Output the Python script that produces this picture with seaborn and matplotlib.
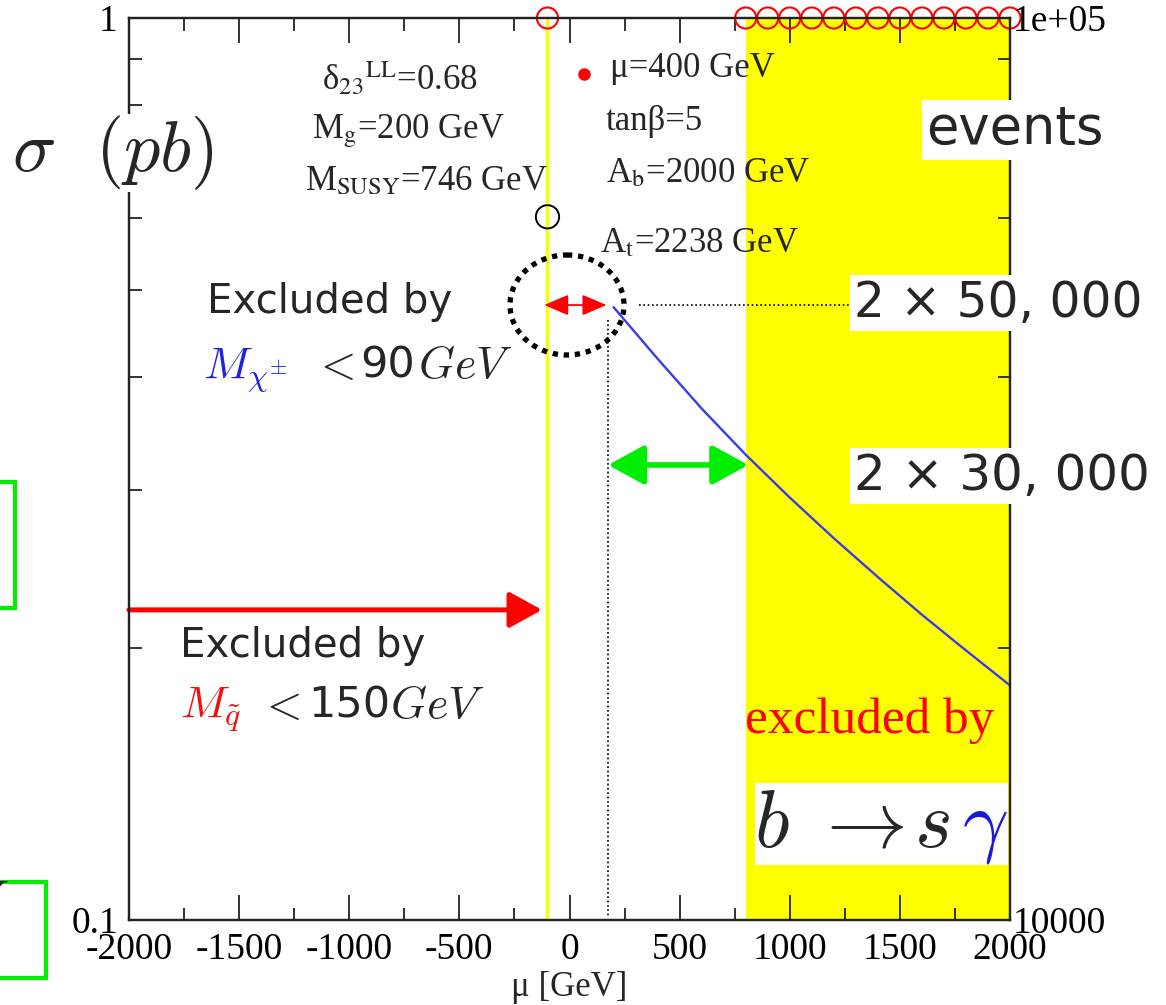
import matplotlib
matplotlib.use("Agg")
import matplotlib.pyplot as plt
from matplotlib.transforms import Affine2D
from matplotlib.patches import Ellipse, Rectangle
from matplotlib.lines import Line2D
from matplotlib.ticker import NullFormatter
import pandas as pd
import seaborn as sns

# ---- data -------------------------------------------------------------
# cross section of the allowed scan (mu in GeV, sigma in pb)
mu_curve = [200, 400, 600, 800, 1000, 1200, 1400, 1600, 1800, 2000]
sigma_curve = [0.478, 0.419, 0.369, 0.328, 0.294, 0.265, 0.240, 0.218, 0.199, 0.182]

# scan points that fall off the top of the frame
mu_top = [-100, 800, 900, 1000, 1100, 1200, 1300, 1400, 1500, 1600, 1700, 1800, 1900, 2000]
sigma_top = [1.0, 1.0, 1.0, 1.0, 1.0, 1.0, 1.0, 1.0, 1.0, 1.0, 1.0, 1.0, 1.0, 1.0]

# isolated point at the chargino boundary
mu_open = [-100]
sigma_open = [0.602]

# limits
mu_chargino = -100          # M_chi+- < 90 GeV edge
mu_bsg = (800, 2000)        # b -> s gamma excluded window
mu_guide = 173              # start of the curve (vertical guide)
sigma_50k = 0.4806          # 2 x 50,000 events level
sigma_30k = 0.3195          # 2 x 30,000 events level
sigma_squark = 0.2207       # squark-limit arrow height

x_ticks = [-2000, -1500, -1000, -500, 0, 500, 1000, 1500, 2000]
x_minor = [-1750, -1250, -750, -250, 250, 750, 1250, 1750]
y_ticks = [0.1, 1]
y_tick_labels = ["0.1", "1"]
y_minor = [0.2, 0.3, 0.4, 0.5, 0.6, 0.7, 0.8, 0.9]
ev_ticks = [1e4, 1e5]
ev_tick_labels = ["10000", "1e+05"]

curve = pd.DataFrame({"mu": mu_curve, "sigma": sigma_curve})
top_pts = pd.DataFrame({"mu": mu_top, "sigma": sigma_top})
open_pts = pd.DataFrame({"mu": mu_open, "sigma": sigma_open})

# ---- style ------------------------------------------------------------
sns.set_theme(style="ticks")
plt.rcParams.update({
    "font.family": ["Liberation Serif", "DejaVu Serif"],
    "mathtext.fontset": "cm",
    "axes.unicode_minus": False,
    "axes.linewidth": 1.6,
    "axes.edgecolor": "#222222",
    "xtick.color": "#222222",
    "ytick.color": "#222222",
    "xtick.labelcolor": "black",
    "ytick.labelcolor": "black",
})

W, H = 1166, 1005
fig = plt.figure(figsize=(W / 100, H / 100), dpi=100)
fig.patch.set_facecolor("white")
ax = fig.add_axes([129 / W, 1 - 920 / H, 881 / W, 902 / H])
ax.set_facecolor("white")

# pixel-style placement helper for the annotations around the frame
T = Affine2D().scale(1 / W, -1 / H).translate(0, 1) + fig.transFigure

ax.axvspan(*mu_bsg, color="#ffff00", lw=0, zorder=0)
ax.axvline(mu_chargino, color="#ffff00", lw=2.4, zorder=1)

sns.lineplot(data=curve, x="mu", y="sigma", ax=ax, color="#3a3aee", lw=1.7, zorder=4)

sns.scatterplot(data=top_pts, x="mu", y="sigma", ax=ax, s=230, marker="o",
                zorder=6, clip_on=False)
coll = ax.collections[-1]
coll.set_facecolor("none"); coll.set_edgecolor("red"); coll.set_linewidth(1.5)
sns.scatterplot(data=open_pts, x="mu", y="sigma", ax=ax, s=280, marker="o", zorder=6)
coll = ax.collections[-1]
coll.set_facecolor("none"); coll.set_edgecolor("black"); coll.set_linewidth(1.4)

# guides
ax.plot([314, 1282], [sigma_50k, sigma_50k], color="black", lw=1.2, ls=(0, (1, 1.6)), zorder=3)
ax.plot([mu_guide, mu_guide], [0.462, 0.101], color="black", lw=1.2, ls=(0, (1, 1.6)), zorder=3)

ax.annotate("", xy=(-115, sigma_50k), xytext=(168, sigma_50k),
            arrowprops=dict(arrowstyle="<|-|>,head_length=0.75,head_width=0.32",
                            color="red", lw=1.3, shrinkA=0, shrinkB=0, mutation_scale=20))
ax.annotate("", xy=(175, sigma_30k), xytext=(812, sigma_30k),
            arrowprops=dict(arrowstyle="<|-|>,head_length=1.1,head_width=0.6",
                            color="#00ee00", lw=4.0, shrinkA=0, shrinkB=0, mutation_scale=20))
ax.annotate("", xy=(-125, sigma_squark), xytext=(-2000, sigma_squark),
            arrowprops=dict(arrowstyle="-|>,head_length=1.0,head_width=0.55",
                            color="red", lw=3.6, shrinkA=0, shrinkB=0, mutation_scale=20))

# ---- axes -------------------------------------------------------------
ax.set_xlim(-2000, 2000)
ax.set_yscale("log")
ax.set_ylim(0.1, 1)
ax.set_xticks(x_ticks, labels=[str(v) for v in x_ticks])
ax.set_xticks(x_minor, minor=True)
ax.set_yticks(y_ticks, labels=y_tick_labels)
ax.set_yticks(y_minor, minor=True)
ax.yaxis.set_minor_formatter(NullFormatter())
ax.tick_params(axis="x", which="major", direction="in", length=18, width=1.3,
               top=True, labelsize=27, pad=9)
ax.tick_params(axis="x", which="minor", direction="in", length=9, width=1.3, top=True)
ax.tick_params(axis="y", which="major", direction="in", length=18, width=1.3,
               right=False, labelsize=27, pad=8)
ax.tick_params(axis="y", which="minor", direction="in", length=9.5, width=1.3, right=False)
ax.set_xlabel("μ [GeV]", fontsize=25)
ax.xaxis.set_label_coords(0.5, -0.057)
ax.set_ylabel("")

ax2 = ax.twinx()
ax2.set_yscale("log")
ax2.set_ylim(1e4, 1e5)
ax2.set_yticks(ev_ticks, labels=ev_tick_labels)
ax2.yaxis.set_minor_formatter(NullFormatter())
ax2.tick_params(axis="y", which="major", direction="in", length=18, width=1.3,
                labelsize=27, pad=2)
ax2.tick_params(axis="y", which="minor", direction="in", length=9, width=1.3)
for sp in ax2.spines.values():
    sp.set_linewidth(1.6)

# ---- labels and notes -------------------------------------------------
fig.text(12, 153, r"$\sigma\ \ (pb)$", transform=T, fontsize=52, va="center",
         bbox=dict(facecolor="white", edgecolor="none", pad=0))

serif = dict(transform=T, fontsize=25, va="baseline", math_fontfamily="stix")
fig.text(322, 90, r"δ$_{\mathrm{23}}$$^{\mathrm{LL}}$=0.68", **serif)
fig.text(312, 138, r"M$_{\mathrm{g}}$=200 GeV", **serif)
fig.text(305, 190, r"M$_{\mathrm{SUSY}}$=746 GeV", **serif)
fig.add_artist(Line2D([584], [74], transform=T, marker="o", color="red",
                      markersize=8, linestyle="none"))
fig.text(610, 77, "μ=400 GeV", **serif)
fig.text(606, 130, "tanβ=5", **serif)
fig.text(606, 182, r"A$_{\mathrm{b}}$=2000 GeV", **serif)
fig.text(600, 252, r"A$_{\mathrm{t}}$=2238 GeV", **serif)

wb = dict(facecolor="white", edgecolor="none", pad=3)
sans = dict(transform=T, family="DejaVu Sans", va="baseline")
fig.text(926, 145, "events", fontsize=38, bbox=wb, **sans)
fig.text(854, 317, "2 × 50, 000", fontsize=35, bbox=wb, **sans)
fig.text(854, 490, "2 × 30, 000", fontsize=36, bbox=wb, **sans)

fig.text(207, 313, "Excluded by", fontsize=29, **sans)
fig.text(203, 378, r"$M_{\chi^{\pm}}$", transform=T, fontsize=33, color="#2222dd", va="baseline")
fig.text(312, 378, r"$<$", transform=T, fontsize=33, va="baseline")
fig.text(360, 378, "90", fontsize=31, **sans)
fig.text(418, 378, r"$GeV$", transform=T, fontsize=33, va="baseline")

fig.text(180, 657, "Excluded by", fontsize=29, **sans)
fig.text(180, 718, r"$M_{\tilde{q}}$", transform=T, fontsize=33, color="#ee1111", va="baseline")
fig.text(258, 718, r"$<$", transform=T, fontsize=33, va="baseline")
fig.text(308, 718, "150", fontsize=31, **sans)
fig.text(390, 718, r"$GeV$", transform=T, fontsize=33, va="baseline")

fig.text(745, 733, "excluded by", transform=T, fontsize=37, color="red",
         family="Liberation Serif", va="baseline")

fig.add_artist(Rectangle((755, 783), 253, 82, transform=T, facecolor="white",
                         edgecolor="none", zorder=2))
bs = dict(transform=T, fontsize=58, va="baseline", zorder=3)
fig.text(754, 847, r"$b$", **bs)
fig.text(812, 847, r"$\rightarrow$", **bs)
fig.text(914, 847, r"$s$", **bs)
fig.text(962, 847, r"$\gamma$", color="#1a1add", **bs)

fig.add_artist(Ellipse((567, 305), 114, 100, transform=T, fill=False, edgecolor="black",
                       lw=3.8, linestyle=(0, (1, 1.1)), zorder=5))

# framed remarks at the left margin
fig.add_artist(Rectangle((-10, 482), 25, 126, transform=T, fill=False,
                         edgecolor="#00ee00", lw=3))
fig.add_artist(Rectangle((-10, 882), 56, 96, transform=T, fill=False,
                         edgecolor="#00ee00", lw=3))
fig.text(9, 905, r"$V$", transform=T, fontsize=40, ha="right", va="center")

fig.savefig("out.png", dpi=100)
